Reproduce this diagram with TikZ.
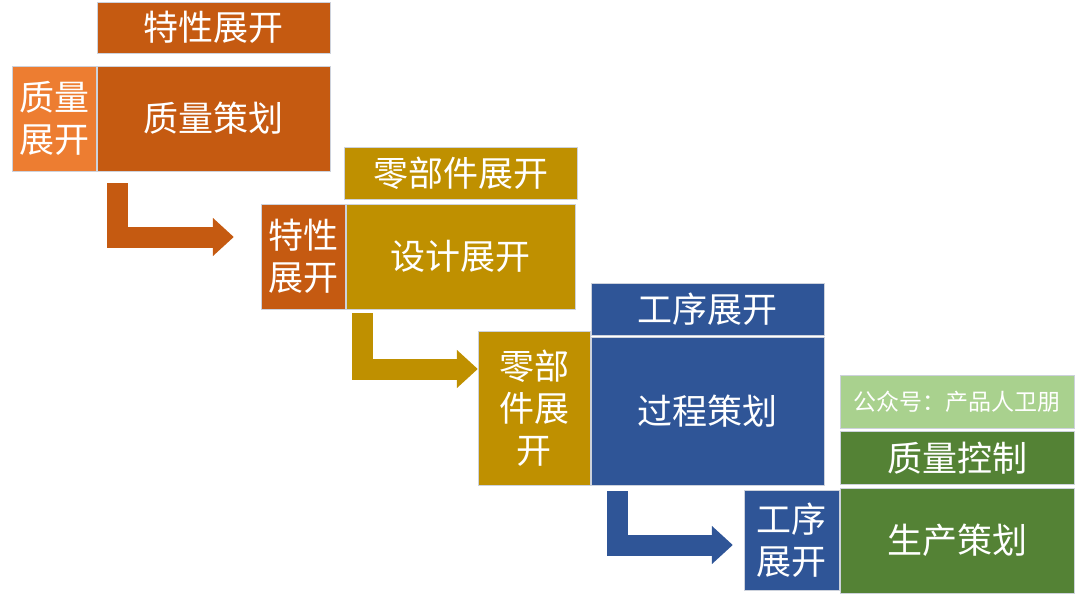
\documentclass[tikz,border=0pt]{standalone}
\usepackage{fontspec}
\newfontfamily\cjk{Noto Sans CJK SC}
\usetikzlibrary{arrows.meta, positioning}
\definecolor{rust}{RGB}{197,90,17}
\definecolor{lightrust}{RGB}{237,125,49}
\definecolor{gold}{RGB}{191,144,0}
\definecolor{navy}{RGB}{47,85,151}
\definecolor{leaf}{RGB}{84,130,53}
\definecolor{paleleaf}{RGB}{169,209,142}
\definecolor{edge}{RGB}{205,210,220}

\begin{document}
\begin{tikzpicture}[
      x=1pt, y=1pt,
      box/.style={draw=edge, line width=0.8pt, fill=#1, text=white, inner sep=0pt,
                  align=center, font=\cjk\fontsize{35}{42}\selectfont},
      flow/.style={draw=#1, line width=21pt, line join=miter,
                   -{Triangle[length=21pt, width=37pt]}}
  ]
    \useasboundingbox (0,0) rectangle (1080,-602);

    \node[box=rust, minimum width=233pt, minimum height=105pt] (m1) at (213.5,-118.5) {质量策划};
    \node[box=rust, minimum width=233pt, minimum height=51pt, above=12pt of m1] (h1) {特性展开};
    \node[box=lightrust, minimum width=84pt, minimum height=105pt, left=0pt of m1] (l1) {质量\\展开};

    \node[box=gold, minimum width=229pt, minimum height=105pt] (m2) at (460.5,-256.5) {设计展开};
    \node[box=gold, minimum width=233pt, minimum height=52pt, above=4pt of m2] (h2) {零部件展开};
    \node[box=rust, minimum width=84pt, minimum height=105pt, left=0pt of m2] (l2) {特性\\展开};

    \node[box=navy, minimum width=233pt, minimum height=148pt] (m3) at (707.5,-411) {过程策划};
    \node[box=navy, minimum width=233pt, minimum height=52pt, above=1pt of m3] (h3) {工序展开};
    \node[box=gold, minimum width=112pt, minimum height=154pt, anchor=south east] (l3)
      at (m3.south west) {零部\\件展\\开};

    \node[box=leaf, minimum width=234pt, minimum height=105pt] (m4) at (957,-540.5) {生产策划};
    \node[box=leaf, minimum width=234pt, minimum height=53pt, above=3pt of m4] (h4) {质量控制};
    \node[box=paleleaf, minimum width=234pt, minimum height=53pt, above=2pt of h4,
          font=\cjk\fontsize{23}{28}\selectfont] (w4) {公众号：产品人卫朋};
    \node[box=navy, minimum width=95pt, minimum height=100pt, left=0pt of m4] (l4) {工序\\展开};

    \draw[flow=rust] ([xshift=20.5pt,yshift=-12pt]m1.south west) |- ([xshift=-27pt,yshift=19.5pt]l2.west);
    \draw[flow=gold] ([xshift=16.5pt,yshift=-4pt]m2.south west) |- ([yshift=39pt]l3.west);
    \draw[flow=navy] ([xshift=26.5pt,yshift=-6pt]m3.south west) |- ([xshift=-11pt,yshift=-4.5pt]l4.west);
  \end{tikzpicture}
\end{document}
